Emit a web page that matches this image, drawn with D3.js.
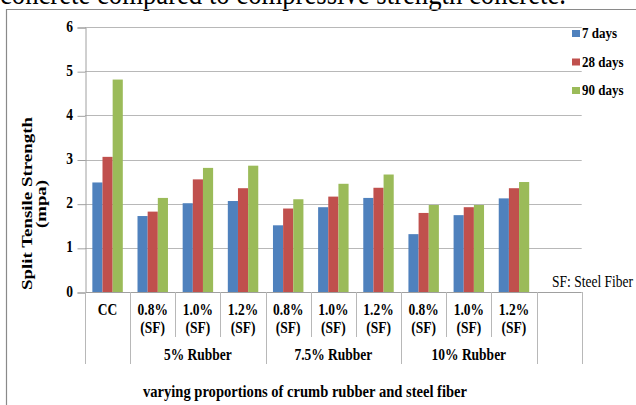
<!DOCTYPE html>
<meta charset="utf-8">
<style>
    body { margin: 0; background: #fff; }
    svg text { font-family: "Liberation Serif", "Times New Roman", serif; fill: #000; }
</style>
<script src="https://d3js.org/d3.v7.min.js"></script>
<div id="chart"></div>
<script>
// category labels (two lines) and group label per column
var subLabels = ["CC", "0.8%", "1.0%", "1.2%", "0.8%", "1.0%", "1.2%", "0.8%", "1.0%", "1.2%", ""];
var subLabels2 = ["", "(SF)", "(SF)", "(SF)", "(SF)", "(SF)", "(SF)", "(SF)", "(SF)", "(SF)", ""];
var groupLabels = ["", "5% Rubber", "5% Rubber", "5% Rubber", "7.5% Rubber", "7.5% Rubber", "7.5% Rubber",
    "10% Rubber", "10% Rubber", "10% Rubber", ""];
var seriesNames = ["7 days", "28 days", "90 days"];
var colors = ["#4F81BD", "#C0504D", "#9BBB59"];
var days7 = [2.48, 1.72, 2.01, 2.06, 1.51, 1.92, 2.13, 1.31, 1.74, 2.12];
var days28 = [3.06, 1.82, 2.55, 2.35, 1.89, 2.16, 2.36, 1.79, 1.92, 2.35];
var days90 = [4.81, 2.13, 2.81, 2.86, 2.10, 2.45, 2.66, 1.97, 1.97, 2.49];
var yTicks = [0, 1, 2, 3, 4, 5, 6];

var W = 636, H = 405;
var plotLeft = 85, plotRight = 581.7, plotTop = 27, plotBottom = 292;

var svg = d3.select("#chart").append("svg")
    .attr("width", W).attr("height", H);

// caption text cut off at top of the picture
svg.append("text")
    .attr("transform", "translate(0,4) scale(1,1.2)")
    .attr("font-size", "26px")
    .attr("textLength", 566)
    .attr("lengthAdjust", "spacingAndGlyphs")
    .text("concrete compared to compressive strength concrete.");

// outer frame
svg.append("path")
    .attr("d", "M6.5," + H + "V9.5H" + W)
    .attr("fill", "none")
    .attr("stroke", "#8a8a8a")
    .attr("stroke-width", 1.2);

var x = d3.scaleBand()
    .domain(d3.range(subLabels.length))
    .range([plotLeft, plotRight]);

var xInner = d3.scaleBand()
    .domain(seriesNames)
    .range([7.35, x.bandwidth() - 7.35]);

var y = d3.scaleLinear()
    .domain([0, 6])
    .range([plotBottom, plotTop]);

// gridlines
svg.append("g")
    .selectAll("line")
    .data(yTicks.slice(1))
    .enter()
    .append("line")
    .attr("x1", plotLeft).attr("x2", plotRight)
    .attr("y1", function (d) { return Math.round(y(d)) + 0.5; })
    .attr("y2", function (d) { return Math.round(y(d)) + 0.5; })
    .attr("stroke", "#b8b8b8");

// y axis (labels drawn separately below)
var yAxis = svg.append("g")
    .attr("transform", "translate(" + (plotLeft + 0.5) + ",0.5)")
    .call(d3.axisLeft(y).tickValues(yTicks).tickSize(8).tickFormat(""));
yAxis.select(".domain").attr("stroke", "#a0a0a0");
yAxis.selectAll(".tick line").attr("stroke", "#a0a0a0");

// bars
var seriesData = [days7, days28, days90];
seriesNames.forEach(function (name, si) {
    svg.append("g")
        .selectAll("rect")
        .data(seriesData[si])
        .enter()
        .append("rect")
        .attr("x", function (d, i) { return x(i) + xInner(name); })
        .attr("width", xInner.bandwidth())
        .attr("y", function (d) { return y(d); })
        .attr("height", function (d) { return y(0) - y(d); })
        .attr("fill", colors[si]);
});

// x axis line
svg.append("line")
    .attr("x1", plotLeft).attr("x2", plotRight)
    .attr("y1", plotBottom + 0.5).attr("y2", plotBottom + 0.5)
    .attr("stroke", "#a0a0a0");

// table dividers under the axis
var n = subLabels.length;
d3.range(n + 1).forEach(function (i) {
    var isGroupEdge = i === 0 || i === n || groupLabels[i] !== groupLabels[i - 1];
    var xx = (i < n ? x(i) : plotRight);
    svg.append("line")
        .attr("x1", Math.round(xx) + 0.5).attr("x2", Math.round(xx) + 0.5)
        .attr("y1", plotBottom).attr("y2", isGroupEdge ? 364 : 337)
        .attr("stroke", "#b8b8b8");
});

function stretchedText(tx, ty, str, size, weight, anchor) {
    return svg.append("text")
        .attr("transform", "translate(" + tx + "," + ty + ") scale(1,1.18)")
        .attr("font-size", size)
        .attr("font-weight", weight)
        .attr("text-anchor", anchor)
        .text(str);
}

subLabels.forEach(function (s, i) {
    var cx = x(i) + x.bandwidth() / 2;
    if (s) stretchedText(cx, 315, s, "13.5px", "bold", "middle");
    if (subLabels2[i]) stretchedText(cx, 333, subLabels2[i], "13.5px", "bold", "middle");
});

// group labels
var groupNames = Array.from(new Set(groupLabels.filter(function (g) { return g; })));
groupNames.forEach(function (g) {
    var idx = d3.range(n).filter(function (i) { return groupLabels[i] === g; });
    var gx = (x(idx[0]) + x(idx[idx.length - 1]) + x.bandwidth()) / 2;
    stretchedText(gx, 360, g, "13.5px", "bold", "middle");
});

// y tick labels
yTicks.forEach(function (t) {
    stretchedText(73, y(t) + 4.5, t, "13.5px", "bold", "end");
});

// y title
svg.append("text")
    .attr("transform", "translate(32,203.5) rotate(-90)")
    .attr("font-size", "15px")
    .attr("font-weight", "bold")
    .attr("text-anchor", "middle")
    .attr("textLength", 173)
    .attr("lengthAdjust", "spacingAndGlyphs")
    .text("Split Tensile Strength");
svg.append("text")
    .attr("transform", "translate(45.5,204) rotate(-90)")
    .attr("font-size", "15px")
    .attr("font-weight", "bold")
    .attr("text-anchor", "middle")
    .attr("textLength", 48)
    .attr("lengthAdjust", "spacingAndGlyphs")
    .text("(mpa)");

// x title
stretchedText(305, 397, "varying proportions of crumb rubber and steel fiber", "13.5px", "bold", "middle")
    .attr("textLength", 324)
    .attr("lengthAdjust", "spacingAndGlyphs");

// legend
seriesNames.forEach(function (name, i) {
    var ly = 30 + i * 28.5;
    svg.append("rect")
        .attr("x", 572).attr("y", ly)
        .attr("width", 8).attr("height", 7)
        .attr("fill", colors[i]);
    svg.append("text")
        .attr("transform", "translate(582," + (ly + 8) + ") scale(1,1.18)")
        .attr("font-size", "13px")
        .attr("font-weight", "bold")
        .text(name);
});

// note
stretchedText(552, 287, "SF: Steel Fiber", "14px", "normal", "start")
    .attr("textLength", 81)
    .attr("lengthAdjust", "spacingAndGlyphs");
</script>
